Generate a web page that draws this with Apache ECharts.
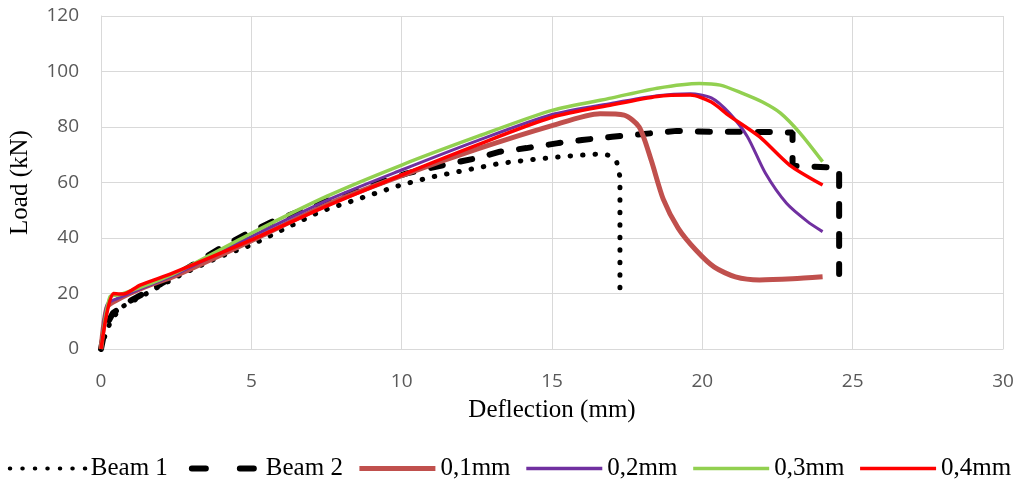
<!DOCTYPE html>
<html>
<head>
<meta charset="utf-8">
<title>Load - Deflection</title>
<script src="https://cdn.jsdelivr.net/npm/echarts@6/dist/echarts.min.js"></script>
<style>
  html, body { margin: 0; padding: 0; background: #fff; }
  #chart { width: 1019px; height: 486px; }
</style>
</head>
<body>
<div id="chart"></div>
<script>
// deflection (mm), load (kN)
var seriesNames = ['Beam 1', 'Beam 2', '0,1mm', '0,2mm', '0,3mm', '0,4mm'];
var xTicks = [0, 5, 10, 15, 20, 25, 30];
var yTicks = [0, 20, 40, 60, 80, 100, 120];

var beam1 = [[0,0],[0.07,3],[0.3,9.4],[0.63,14.8],[1.3,18.7],[1.9,22.3],[2.7,27],[3.96,33.3],[5,37.5],
  [7.28,49.5],[10,59.2],[11.05,62.1],[12.16,64.5],[13.27,66.9],[14.37,68.3],[15.5,69.5],[16.6,70.3],
  [16.9,69.8],[17.15,67.5],[17.26,62],[17.26,18]];
var beam2 = [[0,0],[0.15,8],[0.4,13],[1,17.5],[2,23.5],[3,30],[4.06,36.9],[4.9,41.8],[5.7,45.9],[7.3,52.5],
  [10.17,63.3],[11.4,66.3],[12.5,68.8],[13.27,71.1],[14.15,72.4],[15.15,74.1],[16,75.3],[17,76.5],
  [18.26,77.7],[19.15,78.6],[20.25,78.3],[21.1,78.3],[22.2,78.2],[23,78],[23,66],[24.2,65.5],[24.55,65],[24.55,27]];
var crack01 = [[0,0],[0.2,15],[0.5,17.5],[1.5,22.5],[2.5,26.5],[5,39],[7.5,52],
  [10,62.5],[12.5,72],[15,80.5],[16.6,84.8],[17.4,84.3],[17.9,80],
  [18.3,68],[18.7,54],[19.2,43.5],[19.8,35.5],[20.4,29.5],[21.1,26],[21.9,24.9],[23,25.3],[24,26]];
var crack02 = [[0,0],[0.2,16],[0.5,18],[1.5,22.5],[2.5,27],[5,40.5],[7.5,53.5],
  [10,64.5],[12.5,75],[15,84.5],[17,88.6],[18.5,91.3],[19.6,92],[20.3,90.5],[20.9,85],
  [21.5,76.5],[22.1,63.3],[22.8,52.5],[23.5,45.9],[24,42.3]];
var crack03 = [[0,0],[0.3,18.9],[0.6,19.5],[1.5,23],[2.5,27.5],[5,41.7],[7.5,55],
  [10,66.3],[12.5,76.5],[15,86],[17,90.5],[18.5,94],[19.9,95.7],[20.6,95.1],[21.3,92.3],
  [22,89],[22.6,85],[23.25,77.8],[24,67.5]];
var crack04 = [[0,0],[0.41,20],[0.74,19.8],[1.3,23],[2.4,27.4],[5,39.3],[7.5,51.5],
  [10,62.7],[12.5,73.5],[15,83.5],[17,88],[18.5,91],[19.6,91.5],[20.3,89],[20.9,84],
  [21.9,76.5],[22.9,66.3],[24,59.1]];

var serif = '"Liberation Serif", "DejaVu Serif", serif';
var sans = '"Open Sans", "Noto Sans", sans-serif';

var styles = [
    { color: '#000', width: 5, type: [0.5, 12], cap: 'round' },
    { color: '#000', width: 6, type: [12, 18], cap: 'round' },
    { color: '#c0504d', width: 5 },
    { color: '#7030a0', width: 3 },
    { color: '#92d050', width: 3.5 },
    { color: '#ff0000', width: 3.5 }
];
var legendStyles = [
    { color: '#000', width: 4, type: [0.5, 12], cap: 'round' },
    { color: '#000', width: 6, type: [14, 34], cap: 'round', dashOffset: -7 },
    { color: '#c0504d', width: 5 },
    { color: '#7030a0', width: 3.5 },
    { color: '#92d050', width: 3.5 },
    { color: '#ff0000', width: 3.5 }
];

function lineSeries(i, data, smooth) {
    return {
        name: seriesNames[i],
        type: 'line',
        data: data,
        symbol: 'none',
        smooth: smooth ? 0.25 : false,
        lineStyle: styles[i],
        itemStyle: { color: styles[i].color },
        emphasis: { disabled: true }
    };
}

var chart = echarts.init(document.getElementById('chart'));
chart.setOption({
    animation: false,
    grid: { left: 101, right: 16, top: 16, bottom: 137 },
    xAxis: {
        type: 'value',
        min: xTicks[0],
        max: xTicks[xTicks.length - 1],
        interval: 5,
        name: 'Deflection (mm)',
        nameLocation: 'middle',
        nameGap: 49,
        nameTextStyle: { fontFamily: serif, fontSize: 25, color: '#000' },
        axisLine: { lineStyle: { color: '#d9d9d9' } },
        axisTick: { show: false },
        axisLabel: { fontFamily: sans, fontSize: 19, color: '#595959', margin: 23 },
        splitLine: { lineStyle: { color: '#d9d9d9' } }
    },
    yAxis: {
        type: 'value',
        min: yTicks[0],
        max: yTicks[yTicks.length - 1],
        interval: 20,
        name: 'Load (kN)',
        nameLocation: 'middle',
        nameGap: 68,
        nameTextStyle: { fontFamily: serif, fontSize: 25, color: '#000' },
        axisLine: { show: true, lineStyle: { color: '#d9d9d9' } },
        axisTick: { show: false },
        axisLabel: { fontFamily: sans, fontSize: 19, color: '#595959', margin: 22 },
        splitLine: { lineStyle: { color: '#d9d9d9' } }
    },
    legend: {
        top: 451,
        left: 'center',
        itemWidth: 76,
        itemHeight: 12,
        itemGap: 14,
        itemStyle: { opacity: 0 },
        textStyle: { fontFamily: serif, fontSize: 25, color: '#000' },
        data: seriesNames.map(function (n, i) {
            return { name: n, lineStyle: legendStyles[i] };
        })
    },
    series: [
        lineSeries(0, beam1, false),
        lineSeries(1, beam2, false),
        lineSeries(2, crack01, true),
        lineSeries(3, crack02, true),
        lineSeries(4, crack03, true),
        lineSeries(5, crack04, true)
    ]
});
window.onresize = chart.resize;
</script>
</body>
</html>
